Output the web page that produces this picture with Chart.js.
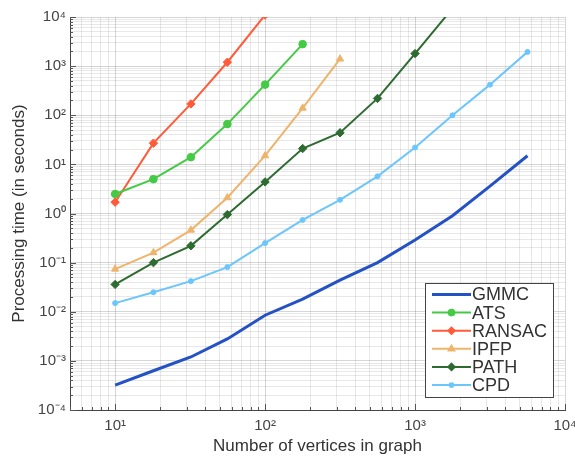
<!DOCTYPE html>
<html>
<head>
<meta charset="utf-8">
<script src="https://cdn.jsdelivr.net/npm/chart.js@4/dist/chart.umd.min.js"></script>
<style>
html,body{margin:0;padding:0;background:#fff;}
#wrap{width:575px;height:457px;position:relative;}
</style>
</head>
<body>
<div id="wrap"><canvas id="c" width="575" height="457"></canvas></div>
<script>
// ---- data ----
const vertices = [10, 18, 32, 56, 100, 178, 316, 562, 1000, 1778, 3162, 5623];
const seriesNames = ['GMMC', 'ATS', 'RANSAC', 'IPFP', 'PATH', 'CPD'];
const gmmc   = [0.00032, 0.00063, 0.0012, 0.0028, 0.0085, 0.018, 0.044, 0.10, 0.29, 0.9, 3.6, 15];
const ats    = [2.5, 5.0, 14, 66, 420, 2800];
const ransac = [1.7, 27, 170, 1200, 11000];
const ipfp   = [0.074, 0.16, 0.46, 2.1, 15, 140, 1400];
const path   = [0.036, 0.10, 0.22, 0.95, 4.4, 21, 44, 220, 1800, 15000];
const cpd    = [0.015, 0.025, 0.042, 0.081, 0.25, 0.74, 1.9, 5.7, 22, 100, 420, 1950];
const xTickExtent = [5, 10000];
const yTickExtent = [1e-4, 1e4];
const xTitle = 'Number of vertices in graph';
const yTitle = 'Processing time (in seconds)';

const FONT = "'Liberation Sans', Arial, Helvetica, sans-serif";
const sup = {'0':'⁰','1':'¹','2':'²','3':'³','4':'⁴','5':'⁵','6':'⁶','7':'⁷','8':'⁸','9':'⁹','-':'⁻'};
function isPow10(v){ const e = Math.round(Math.log10(v)); return Math.abs(v/Math.pow(10,e)-1) < 1e-6; }
function powLabel(v){
  if(!isPow10(v)) return '';
  const e = String(Math.round(Math.log10(v)));
  return '10' + e.split('').map(c=>sup[c]).join('');
}
function logTicks(lo, hi){
  const out = [];
  const e0 = Math.floor(Math.log10(lo)), e1 = Math.ceil(Math.log10(hi));
  for(let e=e0;e<=e1;e++){
    for(let k=1;k<=9;k++){
      const v = +(k*Math.pow(10,e)).toPrecision(6);
      if(v >= lo*0.9999 && v <= hi*1.0001) out.push({value:v});
    }
  }
  return out;
}
function pts(ys){ return ys.map((y,i)=>({x:vertices[i], y:y})); }

const colors = {
  GMMC:'#2452c4', ATS:'#44ca44', RANSAC:'#ff5b3a', IPFP:'#efb46c', PATH:'#2e6b30', CPD:'#6cc6fb'
};
const ds = [
  {label:'GMMC', data:pts(gmmc), borderColor:colors.GMMC, backgroundColor:colors.GMMC, borderWidth:3, pointRadius:0, pointStyle:false},
  {label:'ATS', data:pts(ats), borderColor:colors.ATS, backgroundColor:colors.ATS, borderWidth:2, pointRadius:3.8, pointStyle:'circle'},
  {label:'RANSAC', data:pts(ransac), borderColor:colors.RANSAC, backgroundColor:colors.RANSAC, borderWidth:2, pointRadius:4.2, pointStyle:'rectRot'},
  {label:'IPFP', data:pts(ipfp), borderColor:colors.IPFP, backgroundColor:colors.IPFP, borderWidth:2, pointRadius:4.2, pointStyle:'triangle'},
  {label:'PATH', data:pts(path), borderColor:colors.PATH, backgroundColor:colors.PATH, borderWidth:2, pointRadius:4.2, pointStyle:'rectRot'},
  {label:'CPD', data:pts(cpd), borderColor:colors.CPD, backgroundColor:colors.CPD, borderWidth:2, pointRadius:2.5, pointStyle:'circle'}
];
ds.forEach(d=>{ d.tension=0; d.fill=false; d.pointBorderWidth=1; d.pointHoverRadius=0; });

const innerTicks = {
  id:'innerTicks',
  afterDatasetsDraw(chart){
    const ctx = chart.ctx, a = chart.chartArea;
    const xs = chart.scales.x, ys = chart.scales.y;
    ctx.save();
    ctx.strokeStyle = '#555';
    ctx.lineWidth = 1;
    ctx.beginPath();
    xs.ticks.forEach(t=>{
      const px = Math.round(xs.getPixelForValue(t.value))+0.5;
      const len = isPow10(t.value) ? 6 : 3;
      ctx.moveTo(px, a.bottom); ctx.lineTo(px, a.bottom-len);
    });
    ys.ticks.forEach(t=>{
      const py = Math.round(ys.getPixelForValue(t.value))+0.5;
      const len = isPow10(t.value) ? 6 : 3;
      ctx.moveTo(a.left, py); ctx.lineTo(a.left+len, py);
    });
    ctx.stroke();
    ctx.restore();
  }
};

const legendBox = {
  id:'legendBox',
  afterDraw(chart){
    const ctx = chart.ctx, a = chart.chartArea;
    const bx = 425, by = 283, bw = 128, bh = 114;
    ctx.save();
    ctx.fillStyle = '#fff';
    ctx.fillRect(bx, by, bw, bh);
    ctx.strokeStyle = '#444';
    ctx.lineWidth = 1;
    ctx.strokeRect(bx+0.5, by+0.5, bw, bh);
    ctx.font = "18px " + FONT;
    ctx.textBaseline = 'middle';
    ctx.textAlign = 'left';
    chart.data.datasets.forEach((d,i)=>{
      const y = by + 11.5 + i*18.1;
      ctx.strokeStyle = d.borderColor;
      ctx.lineWidth = d.borderWidth;
      ctx.beginPath(); ctx.moveTo(bx+7, y); ctx.lineTo(bx+46, y); ctx.stroke();
      if(d.pointRadius > 0){
        ctx.fillStyle = d.backgroundColor;
        Chart.helpers.drawPoint(ctx, {pointStyle:d.pointStyle, radius:d.pointRadius*0.75, borderWidth:1, rotation:0}, bx+26.5, y);
        ctx.fill();
      }
      ctx.fillStyle = '#333';
      ctx.fillText(d.label, bx+47, y+1);
    });
    ctx.restore();
  }
};

new Chart(document.getElementById('c'), {
  type:'line',
  data:{datasets:ds},
  plugins:[innerTicks, legendBox],
  options:{
    responsive:false,
    animation:false,
    events:[],
    layout:{padding:{left:0, right:0, top:17, bottom:0}},
    plugins:{legend:{display:false}, tooltip:{enabled:false}},
    scales:{
      x:{
        type:'logarithmic',
        min:xTickExtent[0], max:xTickExtent[1],
        afterBuildTicks:(s)=>{ s.ticks = logTicks(xTickExtent[0], xTickExtent[1]); },
        afterFit:(s)=>{ s.height = 47; s.paddingRight = 10; s.paddingLeft = 0; },
        grid:{
          drawTicks:false,
          color:(c)=> (c.tick && isPow10(c.tick.value)) ? 'rgba(0,0,0,0.16)' : 'rgba(0,0,0,0.09)',
          lineWidth:1
        },
        border:{display:true, color:'#444', width:1},
        ticks:{autoSkip:false, maxRotation:0, padding:7, color:'#444', font:{family:FONT, size:15}, callback:(v)=>powLabel(v)},
        title:{display:true, text:xTitle, color:'#333', font:{family:FONT, size:17}, padding:{top:0, bottom:0}}
      },
      y:{
        type:'logarithmic',
        min:yTickExtent[0], max:yTickExtent[1],
        afterBuildTicks:(s)=>{ s.ticks = logTicks(yTickExtent[0], yTickExtent[1]); },
        afterFit:(s)=>{ s.width = 70; s.paddingTop = 0; s.paddingBottom = 0; },
        grid:{
          drawTicks:false,
          color:(c)=> (c.tick && isPow10(c.tick.value)) ? 'rgba(0,0,0,0.16)' : 'rgba(0,0,0,0.09)',
          lineWidth:1
        },
        border:{display:true, color:'#444', width:1},
        ticks:{autoSkip:false, padding:4, color:'#444', font:{family:FONT, size:15}, callback:(v)=>powLabel(v)},
        title:{display:true, text:yTitle, color:'#333', font:{family:FONT, size:17}, padding:{top:9, bottom:0}}
      }
    }
  }
});
</script>
</body>
</html>
